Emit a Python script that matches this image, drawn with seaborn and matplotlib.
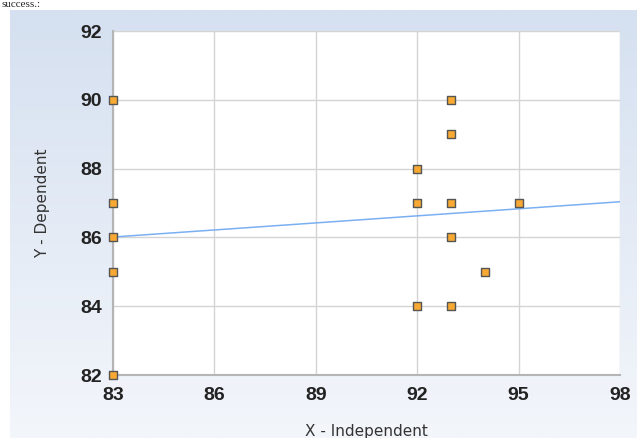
import matplotlib
matplotlib.use("Agg")
import matplotlib.pyplot as plt
import numpy as np
import pandas as pd
import seaborn as sns

# --------------------
# Data
# --------------------
x_vals = [83, 83, 83, 83, 83, 92, 92, 92, 93, 93, 93, 93, 93, 94, 95]
y_vals = [90, 87, 86, 85, 82, 88, 87, 84, 90, 89, 87, 86, 84, 85, 87]
x_ticks = [83, 86, 89, 92, 95, 98]
y_ticks = [82, 84, 86, 88, 90, 92]

df = pd.DataFrame({"x": x_vals, "y": y_vals})

sns.set_style("white")
plt.rcParams["font.family"] = ["DejaVu Sans"]

fig = plt.figure(figsize=(6.37, 4.38), dpi=100)

# gradient panel behind the chart
bg = fig.add_axes([10 / 637, 0, 1 - 10 / 637, 1 - 10 / 438], zorder=-2)
grad = np.linspace(0, 1, 256).reshape(-1, 1)
cmap = matplotlib.colors.LinearSegmentedColormap.from_list(
    "bg", ["#d5e0f0", "#f3f6fb"])
bg.imshow(grad, aspect="auto", cmap=cmap, extent=[0, 1, 0, 1], origin="upper")
bg.axis("off")

fig.text(0.003, 0.999, "success.:", family="Liberation Serif",
         fontsize=8, va="top", ha="left")

ax = fig.add_axes([113 / 637, 1 - 375 / 438, 507 / 637, 344 / 438])
ax.set_facecolor("white")
ax.set_xlim(83, 98)
ax.set_ylim(82, 92)

sns.regplot(data=df, x="x", y="y", ax=ax, ci=None, truncate=False,
            scatter=False, line_kws={"color": "#7ab0f2", "lw": 1.1, "zorder": 2})
sns.scatterplot(data=df, x="x", y="y", ax=ax, marker="s", s=34,
                color="#f7a934", edgecolor="#555555", linewidth=1.0,
                zorder=3, clip_on=False)

ax.set_xticks(x_ticks)
ax.set_yticks(y_ticks)
ax.grid(True, color="#d4d4d4", lw=1)
for s in ["top", "right"]:
    ax.spines[s].set_visible(False)
for s in ["left", "bottom"]:
    ax.spines[s].set_color("#b5b5b5")
    ax.spines[s].set_linewidth(1.5)
ax.tick_params(axis="both", direction="out", length=5, width=1.2,
               color="#333333", labelcolor="#222222", labelsize=14)
ax.tick_params(axis="y", pad=3)
ax.tick_params(axis="x", pad=4)
for lbl in ax.get_xticklabels() + ax.get_yticklabels():
    lbl.set_fontweight("bold")
    lbl.set_family(["Liberation Sans", "DejaVu Sans"])

ax.set_xlabel("X - Independent", fontsize=11, color="#333333", labelpad=14)
ax.set_ylabel("Y - Dependent", fontsize=11, color="#333333", labelpad=22)

fig.savefig("out.png", dpi=100)
